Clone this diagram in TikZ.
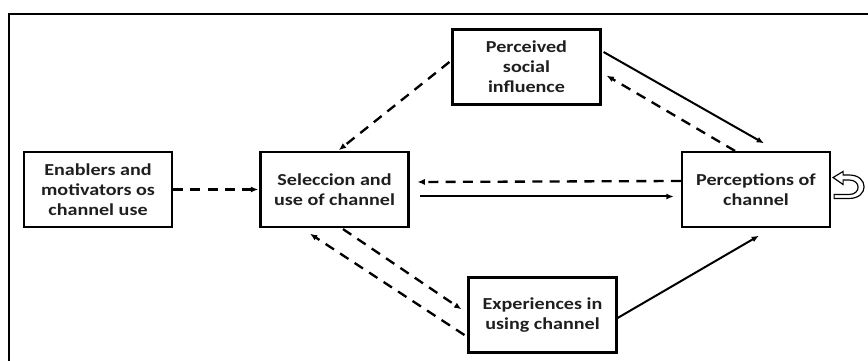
\documentclass[tikz,border=0pt]{standalone}
\usepackage{fontspec}
\newfontfamily\boxfont{Carlito}[FakeStretch=1.2]
\usetikzlibrary{arrows.meta,positioning}

\begin{document}
\begin{tikzpicture}[%
    >={Latex[length=0.22cm,width=0.18cm]},
    shorten >=1pt,
    node distance=3cm,
    on grid,
    box/.style={draw, line width=0.065cm, minimum width=4.44cm, minimum height=2.25cm,
      align=center, inner sep=0pt, text=black!88,
      font=\boxfont\bfseries\fontsize{14.3}{17}\selectfont},
    dashline/.style={dash pattern=on 0.3cm off 0.22cm, line width=0.07cm},
    solidline/.style={line width=0.06cm}
  ]
    \useasboundingbox (0,0) rectangle (26.04,10.83);
    \draw[line width=0.07cm] (0.27,-0.5) |- (26.6,10.41);

    \node[box] (A) at (2.94,5.145) {Enablers and\\motivators os\\channel use};
    \node[box] (B) [right=7.095cm of A] {Seleccion and\\use of channel};
    \node[box] (C) [right=12.645cm of B] {Perceptions of\\channel};
    \node[box] (D) [above right=3.675cm and 5.76cm of B] {Perceived\\social\\influence};
    \node[box] (E) [below right=3.765cm and 6.24cm of B] {Experiences in\\using channel};

    \path[->] (A.east) edge [dashline] (B.west)
              ([xshift=-0.06cm,yshift=0.15cm]D.west) edge [dashline] ([xshift=0.1cm]B.north)
              ([xshift=0.06cm,yshift=0.45cm]D.east) edge [solidline] ([xshift=0.27cm,yshift=0.21cm]C.north)
              ([xshift=-0.63cm]C.north) edge [dashline] ([xshift=0.12cm,yshift=-0.24cm]D.east)
              ([yshift=0.255cm]C.west) edge [dashline] ([xshift=0.2cm,yshift=0.225cm]B.east)
              ([xshift=0.32cm,yshift=-0.21cm]B.east) edge [solidline] ([xshift=-0.18cm,yshift=-0.21cm]C.west)
              ([xshift=0.255cm,yshift=-0.03cm]B.south) edge [dashline] ([xshift=-0.15cm,yshift=0.15cm]E.west)
              ([xshift=-0.09cm,yshift=-0.6cm]E.west) edge [dashline] ([xshift=-0.765cm,yshift=-0.15cm]B.south)
              ([yshift=-0.09cm]E.east) edge [solidline] ([xshift=0.12cm,yshift=-0.21cm]C.south);

    % self loop on the perceptions box
    \begin{scope}[shift={(C.east)}, x=0.03cm, y=-0.03cm]
      \draw[line width=0.035cm, fill=white] (2,-12) -- (12,-18) -- (12,-14.5) -- (18,-14.5)
        .. controls (38,-14.5) and (38,9) .. (18,9) -- (3,9) -- (3,5) -- (18,5)
        .. controls (30,5) and (30,-9.5) .. (18,-9.5) -- (12,-9.5) -- (12,-5) -- cycle;
    \end{scope}
  \end{tikzpicture}
\end{document}
